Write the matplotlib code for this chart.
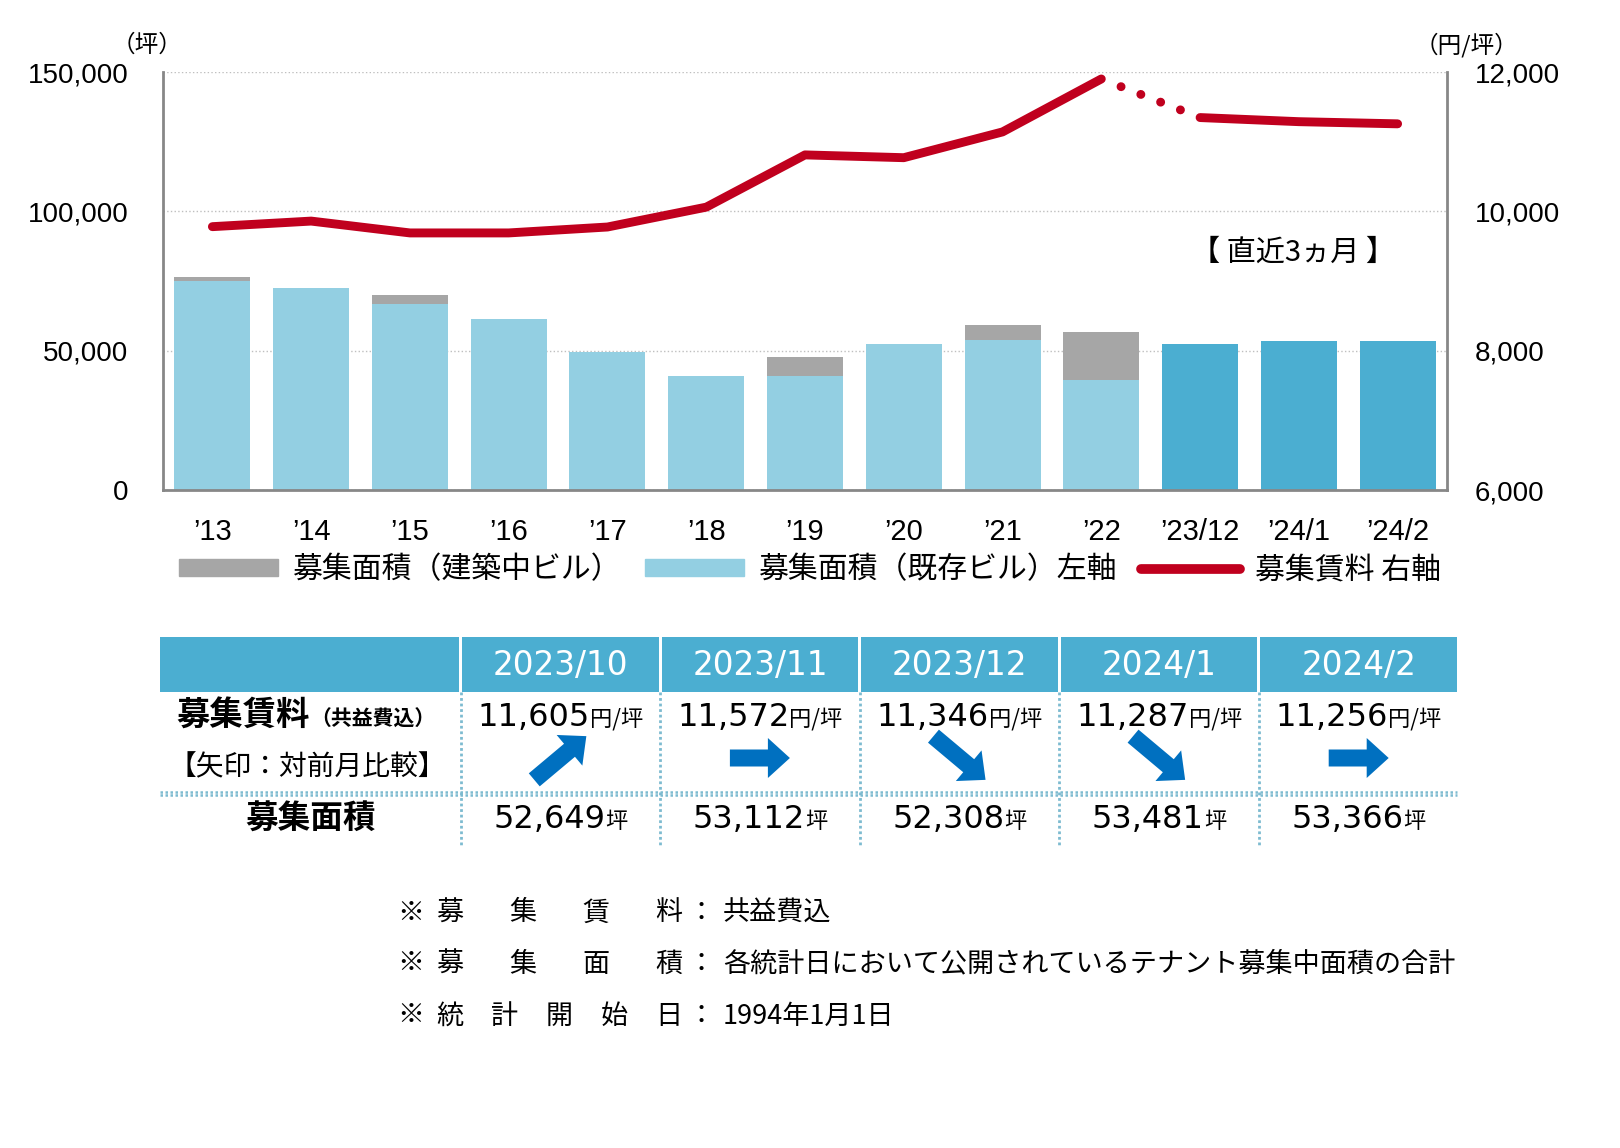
import numpy as np
import matplotlib
matplotlib.use("Agg")
import matplotlib.pyplot as plt
from matplotlib.patches import Rectangle, FancyArrow, Patch
from matplotlib.lines import Line2D
from matplotlib.offsetbox import TextArea, HPacker, AnnotationBbox

plt.rcParams['font.family'] = ['Noto Sans CJK JP', 'DejaVu Sans']

# ---- data ----
years = ['’13', '’14', '’15', '’16', '’17', '’18', '’19', '’20', '’21', '’22']
area_existing = [75000, 72400, 66800, 61200, 49500, 40900, 40900, 52400, 53800, 39500]
area_building = [1300, 0, 3000, 0, 0, 0, 6800, 0, 5400, 17200]
rent_years = [9780, 9860, 9690, 9690, 9775, 10060, 10810, 10770, 11140, 11900]

months = ['2023/10', '2023/11', '2023/12', '2024/1', '2024/2']
month_ticks = ['’23/12', '’24/1', '’24/2']
month_rent = [11605, 11572, 11346, 11287, 11256]
month_area = [52649, 53112, 52308, 53481, 53366]
month_trend = ['up', 'flat', 'down', 'down', 'flat']

notes = [("募集賃料", "共益費込"),
         ("募集面積", "各統計日において公開されているテナント募集中面積の合計"),
         ("統計開始日", "1994年1月1日")]

# ---- colours ----
c_light = '#93CFE2'
c_dark = '#4BAED1'
c_grey = '#A6A6A6'
c_red = '#C0001E'
c_arrow = '#0070C0'
c_axis = '#878787'

W, H = 1620, 1148
fig = plt.figure(figsize=(W / 100, H / 100), dpi=100)

ax = fig.add_axes([163 / W, 1 - 490 / H, (1447 - 163) / W, 418 / H])
n_hist = len(years)
recent_area = month_area[-3:]
recent_rent = month_rent[-3:]
labels = years + month_ticks
x = np.arange(len(labels))

ax.bar(x[:n_hist], area_existing, width=0.77, color=c_light, zorder=2)
ax.bar(x[:n_hist], area_building, width=0.77, bottom=area_existing, color=c_grey, zorder=2)
ax.bar(x[n_hist:], recent_area, width=0.77, color=c_dark, zorder=2)

ax.set_xlim(-0.5, len(labels) - 0.5)
ax.set_ylim(0, 150000)
ax.set_yticks([0, 50000, 100000, 150000])
ax.set_yticklabels([f'{v:,}' for v in [0, 50000, 100000, 150000]],
                   family=['Liberation Sans', 'DejaVu Sans'], fontsize=20)
ax.set_xticks(x)
ax.set_xticklabels(labels, family=['Liberation Sans', 'DejaVu Sans'], fontsize=21)
ax.tick_params(axis='y', length=0, pad=25)
ax.tick_params(axis='x', length=0, pad=20)
ax.yaxis.grid(True, linestyle=':', color='#BFBFBF', linewidth=1)
ax.set_axisbelow(True)
ax.spines['top'].set_visible(False)
ax.spines['right'].set_visible(False)
for s in ['left', 'bottom']:
    ax.spines[s].set_color(c_axis)
    ax.spines[s].set_linewidth(2)

ax2 = ax.twinx()
ax2.set_ylim(6000, 12000)
ax2.set_yticks([6000, 8000, 10000, 12000])
ax2.set_yticklabels([f'{v:,}' for v in [6000, 8000, 10000, 12000]],
                    family=['Liberation Sans', 'DejaVu Sans'], fontsize=20)
ax2.tick_params(axis='y', length=0, pad=20)
for s in ['top', 'left', 'bottom']:
    ax2.spines[s].set_visible(False)
ax2.spines['right'].set_color(c_axis)
ax2.spines['right'].set_linewidth(2)

lw = 6.4
ax2.plot(x[:n_hist], rent_years, color=c_red, lw=lw,
         solid_capstyle='round', solid_joinstyle='round', zorder=3)
ax2.plot(x[n_hist - 1:n_hist + 1], [rent_years[-1], recent_rent[0]], color=c_red, lw=lw,
         linestyle=(0.01, (0.01, 2.38)), dash_capstyle='round', zorder=3)
ax2.plot(x[n_hist:], recent_rent, color=c_red, lw=lw,
         solid_capstyle='round', solid_joinstyle='round', zorder=3)

fig.text(147 / W, 1 - 45 / H, '（坪）', ha='center', va='center', fontsize=17)
fig.text(1466 / W, 1 - 45 / H, '（円/坪）', ha='center', va='center', fontsize=17)

handles = [Patch(color=c_grey), Patch(color=c_light),
           Line2D([], [], color=c_red, lw=7, solid_capstyle='round')]
leg_labels = ['募集面積（建築中ビル）', '募集面積（既存ビル）左軸', '募集賃料 右軸']
fig.legend(handles, leg_labels, loc='center', bbox_to_anchor=(810 / W, 1 - 570 / H),
           ncol=3, frameon=False, fontsize=21.5, handlelength=3.3, handleheight=0.5,
           handletextpad=0.5, columnspacing=0.8)

# ---- overlay in pixel coordinates for table and notes ----
ov = fig.add_axes([0, 0, 1, 1], zorder=5)
ov.set_xlim(0, W)
ov.set_ylim(H, 0)
ov.axis('off')
ov.patch.set_visible(False)

ov.text(1293, 253, '【 直近3ヵ月 】', ha='center', va='center', fontsize=21)

top, hb, rb, bot = 637, 692, 793, 847
left = 160
col_edges = np.linspace(459, 1457, len(months) + 1)
centers = (col_edges[:-1] + col_edges[1:]) / 2 + 1.5

ov.add_patch(Rectangle((left, top), col_edges[0] - left, hb - top, color=c_dark, lw=0))
for i, m in enumerate(months):
    x0 = col_edges[i] + 3
    ov.add_patch(Rectangle((x0, top), col_edges[i + 1] - x0, hb - top, color=c_dark, lw=0))
    ov.text(centers[i], (top + hb) / 2 + 1, m, ha='center', va='center',
            color='white', fontsize=23.5, family='DejaVu Sans')

for e in col_edges[:-1]:
    ov.plot([e + 1.5, e + 1.5], [hb, bot], color='#7DBBD0', lw=2, linestyle=(0, (1, 1)))
ov.plot([left, 1457], [rb - 1.5, rb - 1.5], color='#7DBBD0', lw=1.8, linestyle=(0, (1, 1)))
ov.plot([left, 1457], [rb + 1.5, rb + 1.5], color='#7DBBD0', lw=1.8, linestyle=(0, (1, 1)))


def rich(parts, xy):
    box = HPacker(children=[TextArea(t, textprops=p) for t, p in parts],
                  align='baseline', pad=0, sep=0)
    ab = AnnotationBbox(box, xy, xycoords='data', frameon=False,
                        box_alignment=(0.5, 0.5), pad=0)
    ov.add_artist(ab)


num_p = dict(fontsize=23, family='DejaVu Sans', color='black')
unit_p = dict(fontsize=16, family='Noto Sans CJK JP', color='black')

rich([('募集賃料', dict(fontsize=24, fontweight='bold')),
      ('（共益費込）', dict(fontsize=15, fontweight='bold'))], (306, 716))
ov.text(307, 767, '【矢印：対前月比較】', ha='center', va='center', fontsize=20)
ov.text(311, 819, '募集面積', ha='center', va='center', fontsize=23.5, fontweight='bold')

angles = {'up': 40, 'flat': 0, 'down': -40}
for i in range(len(months)):
    rich([(f'{month_rent[i]:,}', num_p), ('円/坪', unit_p)], (centers[i], 717))
    rich([(f'{month_area[i]:,}', num_p), ('坪', unit_p)], (centers[i], 819))
    a = np.deg2rad(angles[month_trend[i]])
    L = 60 if month_trend[i] == 'flat' else 68
    dx, dy = L * np.cos(a), -L * np.sin(a)
    ov.add_patch(FancyArrow(centers[i] - dx / 2, 758 - dy / 2, dx, dy, width=17,
                            head_width=40, head_length=22, length_includes_head=True,
                            color=c_arrow, lw=0))

note_y = [913, 964, 1016]
for (lab, val), y in zip(notes, note_y):
    ov.text(411, y, '※', ha='center', va='center', fontsize=19.5)
    xs = np.linspace(450, 669, len(lab))
    for ch, xc in zip(lab, xs):
        ov.text(xc, y, ch, ha='center', va='center', fontsize=19.5)
    ov.text(701, y, '：', ha='center', va='center', fontsize=19.5)
    ov.text(723, y, val, ha='left', va='center', fontsize=19.5)

fig.savefig('out.png', dpi=100)
